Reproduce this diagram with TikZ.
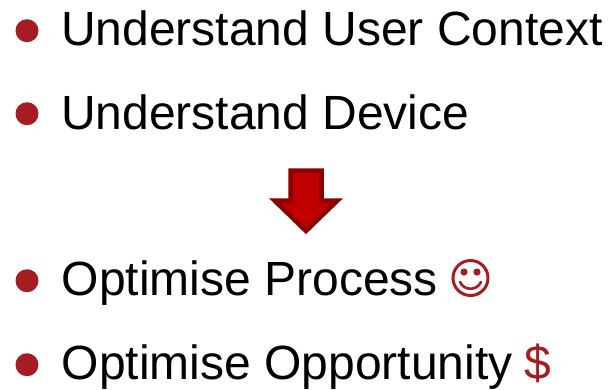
\documentclass[tikz,border=0pt]{standalone}
\usepackage{fontspec}
\setmainfont{Liberation Sans}
\definecolor{bulletred}{HTML}{A61C23}
\definecolor{arrowfill}{HTML}{C00000}
\definecolor{arrowline}{HTML}{8B0000}
\tikzset{
  itemtext/.style={anchor=base west,inner sep=0pt,font=\fontsize{48}{52}\selectfont,text=black},
  dot/.style={circle,fill=bulletred,draw=none,minimum size=23pt,inner sep=0pt},
}
\begin{document}
\begin{tikzpicture}[x=1pt,y=-1pt]
\useasboundingbox (0,0) rectangle (610,389);
\node[dot] (b1) at (27,30.7) {};
\node[itemtext] (t1) at (61,45.5) {Understand User Context};
\node[dot] (b2) at (27,113.7) {};
\node[itemtext] (t2) at (61,129) {Understand Device};
\node[dot] (b3) at (27,280.7) {};
\node[itemtext] (t3) at (61.5,295.5) {Optimise Process};
\node[dot] (b4) at (27,364.7) {};
\node[itemtext] (t4) at (61.5,379) {Optimise Opportunity};
\node[itemtext,text=bulletred] (dollar) at (524,379) {\$};
% arrow
\draw[fill=arrowfill,draw=arrowline,line width=4.5pt,miter limit=10]
  (290.5,170.5) -- (321.5,170.5) -- (321.5,200.5) -- (337.5,200.5) -- (306,231) -- (274.5,200.5) -- (290.5,200.5) -- cycle;
% smiley
\draw[bulletred,line width=3pt] (470.5,278) circle (17.5);
\fill[bulletred] (464,272) circle (3.6) (477,272) circle (3.6);
\draw[bulletred,line width=2.6pt,line cap=round] (460,282) .. controls (464,291) and (477,291) .. (481,282);
\end{tikzpicture}
\end{document}
